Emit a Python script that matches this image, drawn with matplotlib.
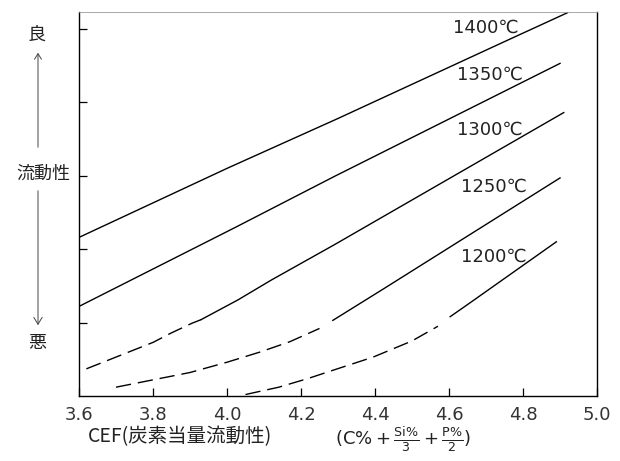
import matplotlib
matplotlib.use("Agg")
import matplotlib.pyplot as plt

plt.rcParams['font.family'] = ['Noto Sans CJK JP', 'DejaVu Sans']

# 温度ごとの流動性曲線 (破線 = 推定部分)
x_1400 = [3.60, 4.00, 4.30, 4.76, 4.92]
y_1400 = [2.16, 3.10, 3.78, 4.85, 5.22]

x_1350 = [3.60, 4.02, 4.29, 4.90]
y_1350 = [1.22, 2.29, 2.99, 4.53]

x_1300_d = [3.62, 3.69, 3.75, 3.80, 3.85, 3.905, 3.93]
y_1300_d = [0.37, 0.51, 0.63, 0.73, 0.86, 0.99, 1.04]
x_1300 = [3.93, 4.03, 4.12, 4.29, 4.91]
y_1300 = [1.04, 1.31, 1.58, 2.06, 3.86]

x_1250_d = [3.70, 3.81, 3.90, 4.00, 4.09, 4.17, 4.25]
y_1250_d = [0.12, 0.23, 0.32, 0.46, 0.60, 0.74, 0.92]
x_1250 = [4.286, 4.42, 4.54, 4.72, 4.90]
y_1250 = [1.03, 1.45, 1.83, 2.40, 2.97]

x_1200_d = [4.05, 4.14, 4.22, 4.28, 4.395, 4.50, 4.57]
y_1200_d = [0.02, 0.12, 0.24, 0.34, 0.53, 0.75, 0.95]
x_1200 = [4.603, 4.657, 4.89]
y_1200 = [1.08, 1.27, 2.10]

labels = ['1400℃', '1350℃', '1300℃', '1250℃', '1200℃']
label_x = [4.70, 4.71, 4.71, 4.72, 4.72]
label_y = [5.01, 4.37, 3.63, 2.85, 1.90]

xticks = [3.6, 3.8, 4.0, 4.2, 4.4, 4.6, 4.8, 5.0]
xticklabels = ['3.6', '3.8', '4.0', '4.2', '4.4', '4.6', '4.8', '5.0']
yticks = [1, 2, 3, 4, 5]

fig = plt.figure(figsize=(6.2, 4.61), dpi=100)
ax = fig.add_axes([0.1274, 0.141, 0.8356, 0.833])

lw = 1.0
dash = (0, (11, 5))
ax.plot(x_1400, y_1400, color='black', lw=lw)
ax.plot(x_1350, y_1350, color='black', lw=lw)
ax.plot(x_1300_d, y_1300_d, color='black', lw=lw, linestyle=dash)
ax.plot(x_1300, y_1300, color='black', lw=lw)
ax.plot(x_1250_d, y_1250_d, color='black', lw=lw, linestyle=dash)
ax.plot(x_1250, y_1250, color='black', lw=lw)
ax.plot(x_1200_d, y_1200_d, color='black', lw=lw, linestyle=dash)
ax.plot(x_1200, y_1200, color='black', lw=lw)

for t, lx, ly in zip(labels, label_x, label_y):
    ax.text(lx, ly, t, fontsize=13, ha='center', va='center', color='#222222',
            family=['DejaVu Sans', 'Noto Sans CJK JP'])

ax.set_xlim(3.6, 5.0)
ax.set_ylim(0, 5.23)
ax.set_xticks(xticks)
ax.set_xticklabels(xticklabels, family=['DejaVu Sans'], fontsize=13, color='#333333')
ax.set_yticks(yticks)
ax.set_yticklabels([])
ax.tick_params(direction='in', length=6, width=0.9, pad=7)
for s in ['left', 'bottom', 'right']:
    ax.spines[s].set_linewidth(1.0)
ax.spines['top'].set_linewidth(0.6)
ax.spines['top'].set_color('#999999')

# x軸ラベル
fig.text(88 / 620, 1 - 437 / 461, 'CEF(炭素当量流動性)', fontsize=14, ha='left', va='center',
         color='#222222')
fig.text(335 / 620, 1 - 440 / 461,
         r'$(\mathrm{C\%}+\frac{\mathrm{Si\%}}{3}+\frac{\mathrm{P\%}}{2})$',
         fontsize=13, ha='left', va='center', color='#222222')

# y軸ラベル (良 ↑ 流動性 ↓ 悪)
fig.text(37 / 620, 1 - 35 / 461, '良', fontsize=13, ha='center', va='center', color='#222222')
fig.text(43 / 620, 1 - 174 / 461, '流動性', fontsize=13, ha='center', va='center', color='#222222')
fig.text(37 / 620, 1 - 343 / 461, '悪', fontsize=13, ha='center', va='center', color='#222222')
fig.add_artist(matplotlib.patches.FancyArrowPatch(
    (38 / 620, 1 - 150 / 461), (38 / 620, 1 - 50 / 461), transform=fig.transFigure,
    arrowstyle='->,head_length=4,head_width=2.5', lw=0.7, color='#444444'))
fig.add_artist(matplotlib.patches.FancyArrowPatch(
    (38 / 620, 1 - 188 / 461), (38 / 620, 1 - 328 / 461), transform=fig.transFigure,
    arrowstyle='->,head_length=5,head_width=3', lw=0.7, color='#444444'))

fig.savefig('out.png', dpi=100)
